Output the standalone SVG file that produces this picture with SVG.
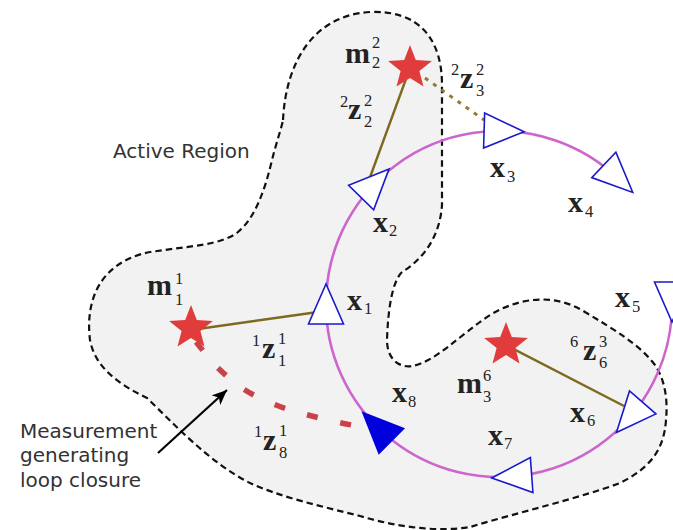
<svg xmlns="http://www.w3.org/2000/svg" xmlns:xlink="http://www.w3.org/1999/xlink" width="673" height="530" viewBox="0 0 673 530">
<style>
.region{fill:#f2f2f2;stroke:#111;stroke-width:2.2;stroke-dasharray:6.5 4;}
.traj{fill:none;stroke:#cc66cc;stroke-width:2.6;}
.meas{fill:none;stroke:#7d6a1e;stroke-width:2.4;}
.meas-dot{fill:none;stroke:#8f7d32;stroke-width:3;stroke-dasharray:4 6;}
.loop{fill:none;stroke:#c9424a;stroke-width:5.5;stroke-dasharray:11 23;}
.pose{fill:#fff;stroke:#1a1acc;stroke-width:1.6;stroke-linejoin:miter;}
.pose-cur{fill:#0000dd;stroke:#0000dd;stroke-width:1.6;}
.lm{fill:#e03c3c;}
.b{font-family:"Liberation Serif","Times New Roman",serif;font-weight:bold;font-size:30px;fill:#222;}
.s{font-family:"Liberation Serif","Times New Roman",serif;font-size:16.5px;fill:#222;}
.sans{font-family:"DejaVu Sans","Liberation Sans",sans-serif;font-size:20px;fill:#333;}
.arrow{fill:none;stroke:#000;stroke-width:2.2;}
</style>
<defs>
<path id="tri" d="M20,0 L-20,-17.5 L-20,17.5 Z"/>
<path id="star" d="M0,-23 L5.8,-8 L21.9,-7.1 L9.4,3.1 L13.5,18.6 L0,9.9 L-13.5,18.6 L-9.4,3.1 L-21.9,-7.1 L-5.8,-8 Z"/>
<marker id="ah" markerUnits="userSpaceOnUse" markerWidth="18" markerHeight="14" refX="15" refY="7" orient="auto">
<path d="M0,0.5 L15,7 L0,13.5 L4,7 Z" fill="#000"/>
</marker>
</defs>

<g id="active-region">
<path class="region" d="M 283,120 C 286,60 315,15 370,12 C 420,10 442,40 442,85 L 442,205 C 440,235 425,258 402,272 C 392,282 388,310 387,340 C 387,360 400,368 412,366 C 435,362 460,335 490,315 C 520,297 555,293 585,312 C 615,330 640,345 655,365 C 665,380 668,400 666,420 C 664,450 650,468 620,483 C 580,498 520,512 470,527 C 440,532 400,528 360,516 C 320,506 280,497 250,483 C 210,463 175,425 147,398 C 120,385 95,368 90,340 C 85,300 100,262 150,252 C 190,246 222,245 238,232 C 255,218 265,190 272,160 C 277,140 281,130 283,120 Z"/>
<text class="sans" x="113" y="158">Active Region</text>
</g>

<g id="connectors">
<path id="trajectory" class="traj" d="M 672,301 A 173 173 0 1 1 618.3,178.7"/>
<line id="z22" class="meas" x1="410" y1="68" x2="369" y2="180"/>
<line id="z23" class="meas-dot" x1="425" y1="78" x2="484" y2="120"/>
<line id="z11" class="meas" x1="191" y1="330" x2="318" y2="312"/>
<line id="z63" class="meas" x1="506" y1="345" x2="624" y2="406"/>
<path id="z81" class="loop" d="M 196,342 C 199.7,346.3 209.8,360 218,368 C 226.2,376 235.3,383.8 245,390 C 254.7,396.2 265.5,400.8 276,405 C 286.5,409.2 296,411.8 308,415 C 320,418.2 340,423 352,425"/>
<line id="loop-arrow" class="arrow" x1="158" y1="453" x2="227" y2="390" marker-end="url(#ah)"/>
</g>

<g id="x1"><use xlink:href="#tri" class="pose" transform="translate(326,304) rotate(-90)"/></g>
<g id="x2"><use xlink:href="#tri" class="pose" transform="translate(375.1,183.2) rotate(-45.7)"/></g>
<g id="x3"><use xlink:href="#tri" class="pose" transform="translate(504.1,131.1) rotate(1.7)"/></g>
<g id="x4"><use xlink:href="#tri" class="pose" transform="translate(618.3,178.7) rotate(43.6)"/></g>
<g id="x5"><use xlink:href="#tri" class="pose" transform="translate(672,302) rotate(90)"/></g>
<g id="x6"><use xlink:href="#tri" class="pose" transform="translate(629.6,417.5) rotate(131)"/></g>
<g id="x7"><use xlink:href="#tri" class="pose" transform="translate(511.7,476.5) rotate(175.8)"/></g>
<g id="x8"><use xlink:href="#tri" class="pose-cur" transform="translate(377.1,426.8) rotate(224.8)"/></g>

<g id="m1"><use xlink:href="#star" class="lm" transform="translate(191,328)"/></g>
<g id="m2"><use xlink:href="#star" class="lm" transform="translate(410,68)"/></g>
<g id="m3"><use xlink:href="#star" class="lm" transform="translate(506,345)"/></g>

<g id="labels">
<text><tspan class="b" x="345" y="63">m</tspan><tspan class="s" x="372" y="48">2</tspan><tspan class="s" x="372" y="68">2</tspan></text>
<text><tspan class="s" x="340" y="107">2</tspan><tspan class="b" x="348" y="119">z</tspan><tspan class="s" x="364" y="106">2</tspan><tspan class="s" x="364" y="127">2</tspan></text>
<text><tspan class="s" x="451" y="75">2</tspan><tspan class="b" x="460" y="88">z</tspan><tspan class="s" x="476" y="75">2</tspan><tspan class="s" x="476" y="96">3</tspan></text>
<text><tspan class="b" x="490" y="177">x</tspan><tspan class="s" x="507" y="182">3</tspan></text>
<text><tspan class="b" x="373" y="232">x</tspan><tspan class="s" x="389" y="236">2</tspan></text>
<text><tspan class="b" x="568" y="212">x</tspan><tspan class="s" x="585" y="217">4</tspan></text>
<text><tspan class="b" x="615" y="307">x</tspan><tspan class="s" x="632" y="312">5</tspan></text>
<text><tspan class="b" x="347" y="310">x</tspan><tspan class="s" x="364" y="314">1</tspan></text>
<text><tspan class="b" x="570" y="422">x</tspan><tspan class="s" x="587" y="426">6</tspan></text>
<text><tspan class="b" x="488" y="445">x</tspan><tspan class="s" x="504" y="449">7</tspan></text>
<text><tspan class="b" x="392" y="402">x</tspan><tspan class="s" x="408" y="407">8</tspan></text>
<text><tspan class="b" x="457" y="393">m</tspan><tspan class="s" x="483" y="381">6</tspan><tspan class="s" x="483" y="402">3</tspan></text>
<text><tspan class="s" x="570" y="347">6</tspan><tspan class="b" x="583" y="360">z</tspan><tspan class="s" x="599" y="347">3</tspan><tspan class="s" x="599" y="368">6</tspan></text>
<text><tspan class="b" x="147" y="295">m</tspan><tspan class="s" x="175" y="284">1</tspan><tspan class="s" x="175" y="305">1</tspan></text>
<text><tspan class="s" x="252" y="346">1</tspan><tspan class="b" x="262" y="358">z</tspan><tspan class="s" x="278" y="344">1</tspan><tspan class="s" x="278" y="366">1</tspan></text>
<text><tspan class="s" x="254" y="437">1</tspan><tspan class="b" x="263" y="450">z</tspan><tspan class="s" x="279" y="436">1</tspan><tspan class="s" x="279" y="458">8</tspan></text>
<text class="sans"><tspan x="20" y="438">Measurement</tspan><tspan x="20" y="462">generating</tspan><tspan x="20" y="487">loop closure</tspan></text>
</g>
</svg>
